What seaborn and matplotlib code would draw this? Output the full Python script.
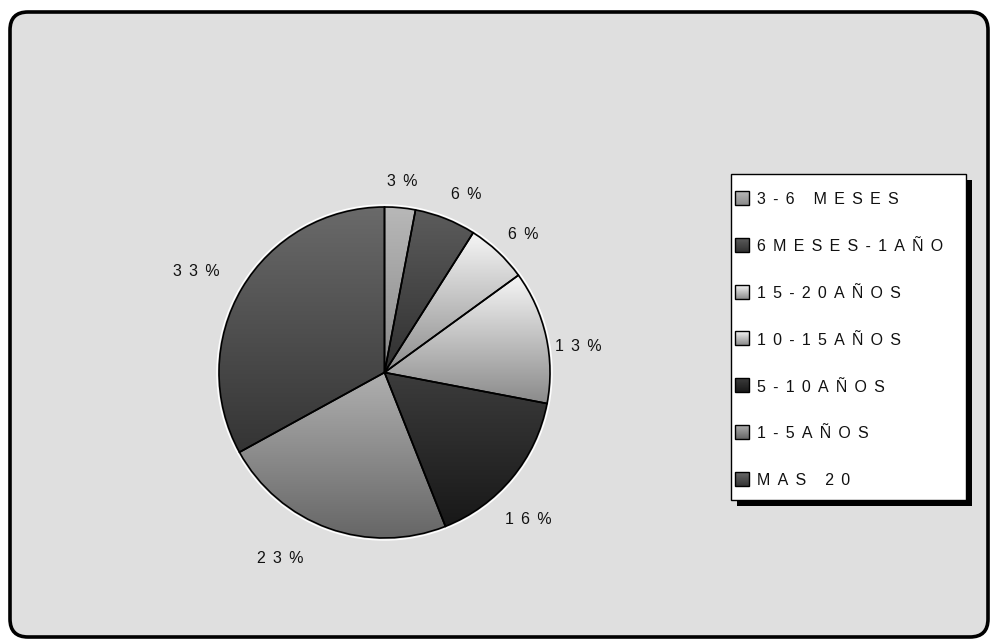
import numpy as np
import matplotlib
matplotlib.use("Agg")
import matplotlib.pyplot as plt
import seaborn as sns
from matplotlib.colors import LinearSegmentedColormap
from matplotlib.patches import FancyBboxPatch, Rectangle, Circle

# ---- data ----
categories = ["3-6 MESES", "6MESES-1AÑO", "15-20AÑOS", "10-15AÑOS",
              "5-10AÑOS", "1-5AÑOS", "MAS 20"]
values = [3, 6, 6, 13, 16, 23, 33]
# gradient colours (top, bottom) for each slice
top_colors = ["#b8b8b8", "#5c5c5c", "#f6f6f6", "#f6f6f6", "#3c3c3c", "#b0b0b0", "#6a6a6a"]
bottom_colors = ["#8a8a8a", "#303030", "#8c8c8c", "#8a8a8a", "#181818", "#666666", "#343434"]
# label placement (radial factor, angular nudge in degrees)
label_dist = [1.16, 1.18, 1.18, 1.18, 1.24, 1.29, 1.29]
label_nudge = [0, -3, -2, -5, -6, -9.5, 2.3]

sns.set_theme(style="white")
plt.rcParams['font.family'] = ['Liberation Sans', 'DejaVu Sans']

SP = "\u2005\u2009"
def spaced(s):
    return SP.join(s)

FS = 11.5
W, H = 993, 641
fig = plt.figure(figsize=(W / 100, H / 100), dpi=100, facecolor="white")

# background frame (pixel coordinates, y down)
ax_bg = fig.add_axes([0, 0, 1, 1], zorder=0)
ax_bg.set_xlim(0, W)
ax_bg.set_ylim(H, 0)
ax_bg.axis("off")
ax_bg.add_patch(FancyBboxPatch((10, 12), 978, 625,
                               boxstyle="round,pad=0,rounding_size=18",
                               fc="#dfdfdf", ec="black", lw=2.6))

# pie axes
cx, cy, R = 384.5, 372.5, 165.5
half = 250
ax = fig.add_axes([(cx - half) / W, (H - cy - half) / H, 2 * half / W, 2 * half / H], zorder=1)
ax.patch.set_alpha(0)
wedges, texts = ax.pie(values, startangle=90, counterclock=False, radius=1,
                       labels=[spaced(f"{v}%") for v in values], labeldistance=1.2,
                       colors=bottom_colors,
                       wedgeprops=dict(edgecolor="black", linewidth=1.2),
                       textprops=dict(fontsize=FS, color="#111111"))
grad = np.linspace(0, 1, 256).reshape(-1, 1)
for i, w in enumerate(wedges):
    ext = w.get_path().get_extents()
    cmap = LinearSegmentedColormap.from_list(f"c{i}", [top_colors[i], bottom_colors[i]])
    im = ax.imshow(grad, cmap=cmap, extent=(ext.x0, ext.x1, ext.y0, ext.y1),
                   origin="upper", aspect="auto", zorder=1, interpolation="bilinear")
    im.set_clip_path(w)
    w.set_facecolor("none")
    w.set_zorder(3)
    ang = np.deg2rad((w.theta1 + w.theta2) / 2 + label_nudge[i])
    texts[i].set_position((label_dist[i] * np.cos(ang), label_dist[i] * np.sin(ang)))
    texts[i].set_ha("center")
    texts[i].set_va("center")
ax.add_patch(Circle((0, 0), 1.012, fill=False, ec="white", lw=1.0, zorder=2))
lim = half / R
ax.set_xlim(-lim, lim)
ax.set_ylim(-lim, lim)
ax.set_aspect("equal")
ax.axis("off")

# legend (pixel coordinates, y down)
ax_fg = fig.add_axes([0, 0, 1, 1], zorder=2)
ax_fg.patch.set_alpha(0)
ax_fg.axis("off")
lx0, ly0, lx1, ly1 = 731, 174, 966, 500
ax_fg.add_patch(Rectangle((lx0 + 6, ly0 + 6), lx1 - lx0, ly1 - ly0, fc="black", ec="none", zorder=1))
ax_fg.add_patch(Rectangle((lx0, ly0), lx1 - lx0, ly1 - ly0, fc="white", ec="black", lw=1.0, zorder=2))
y_first, step = 200, 46.8
for i, lab in enumerate(categories):
    yc = y_first + i * step
    mx0, mx1, my0, my1 = 735, 749, yc - 9, yc + 5
    cmap = LinearSegmentedColormap.from_list(f"l{i}", [top_colors[i], bottom_colors[i]])
    ax_fg.imshow(grad, cmap=cmap, extent=(mx0, mx1, my1, my0), origin="upper",
                 aspect="auto", zorder=3, interpolation="bilinear")
    ax_fg.add_patch(Rectangle((mx0, my0), mx1 - mx0, my1 - my0, fill=False, ec="black", lw=1.0, zorder=4))
    ax_fg.text(757, yc, spaced(lab), fontsize=FS, color="#111111", va="center", ha="left", zorder=5)
ax_fg.set_xlim(0, W)
ax_fg.set_ylim(H, 0)

fig.savefig("out.png", dpi=100, facecolor="white")
